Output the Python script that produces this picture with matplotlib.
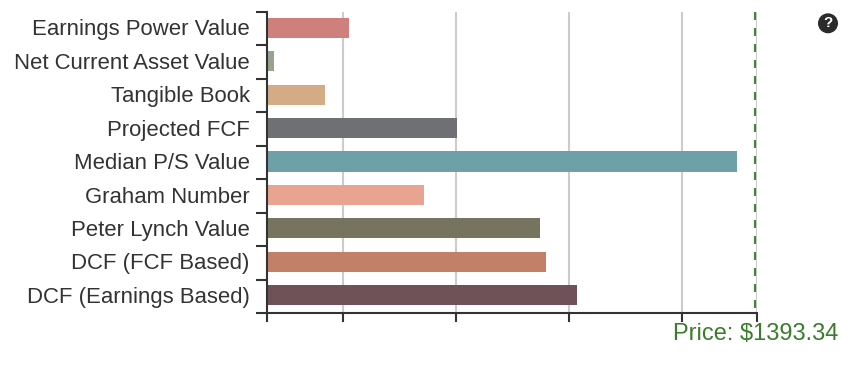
import matplotlib
matplotlib.use("Agg")
import matplotlib.pyplot as plt
from matplotlib.patches import Circle

plt.rcParams['font.family'] = ['Liberation Sans', 'DejaVu Sans']

# valuation labels, top to bottom
labels = [
    "Earnings Power Value", "Net Current Asset Value", "Tangible Book",
    "Projected FCF", "Median P/S Value", "Graham Number",
    "Peter Lynch Value", "DCF (FCF Based)", "DCF (Earnings Based)"
]
values = [317, 119, 254, 603, 1345, 516, 823, 839, 921]
colors = ["#cf807c", "#97a38f", "#d3ac85", "#6f7074", "#6ea0a7",
          "#e8a391", "#76735f", "#c28069", "#6f5158"]
price = 1393.34
x_ticks = [100, 300, 600, 900, 1200, 1398]

W, H = 856, 382
fig = plt.figure(figsize=(W / 100, H / 100), dpi=100)
ax = fig.add_axes([267 / W, 1 - 313 / H, 490 / W, 301 / H])

ax.set_xlim(x_ticks[0], x_ticks[-1])
ax.set_ylim(len(labels), 0)

# gridlines sit behind everything
for t in x_ticks[1:]:
    ax.axvline(t, color="#cccccc", lw=1.5, zorder=1)

centers = [i + 0.5 for i in range(len(labels))]
for c, v, col in zip(centers, values, colors):
    ax.barh(c - 0.03, v - x_ticks[0], left=x_ticks[0], height=0.6, color=col,
            edgecolor="none", zorder=2)

# drawn top to bottom so the dash pattern starts at the top
ax.plot([price, price], [0, len(labels)], color="#3a8a2e", lw=1.5,
        dashes=(3.84, 3.84), zorder=3)

for s in ["top", "right"]:
    ax.spines[s].set_visible(False)
for s in ["left", "bottom"]:
    ax.spines[s].set_linewidth(1.5)
    ax.spines[s].set_color("#333333")

ax.set_xticks(x_ticks)
ax.set_xticklabels([])
ax.tick_params(axis="x", length=6.5, width=1.5, color="#333333")

# ticks on the band edges, labels in the band middles
ax.set_yticks(range(len(labels) + 1))
ax.set_yticklabels([])
ax.tick_params(axis="y", which="major", length=8, width=1.5, color="#333333")
ax.set_yticks([c - 0.04 for c in centers], minor=True)
ax.set_yticklabels(labels, minor=True, fontsize=15.9, color="#333333")
ax.tick_params(axis="y", which="minor", length=0, pad=12.5)

fig.text(838 / W, 1 - 334 / H, f"Price: ${price}", color="#3a7d2c", fontsize=17,
         ha="right", va="center")

# help icon
fig.add_artist(Circle((828, H - 23.3), 9.3, transform=None, color="#2b2b2b"))
fig.text(828 / W, 1 - 23.3 / H, "?", color="white", fontsize=11, fontweight="bold",
         ha="center", va="center")

fig.savefig("out.png", dpi=100)
